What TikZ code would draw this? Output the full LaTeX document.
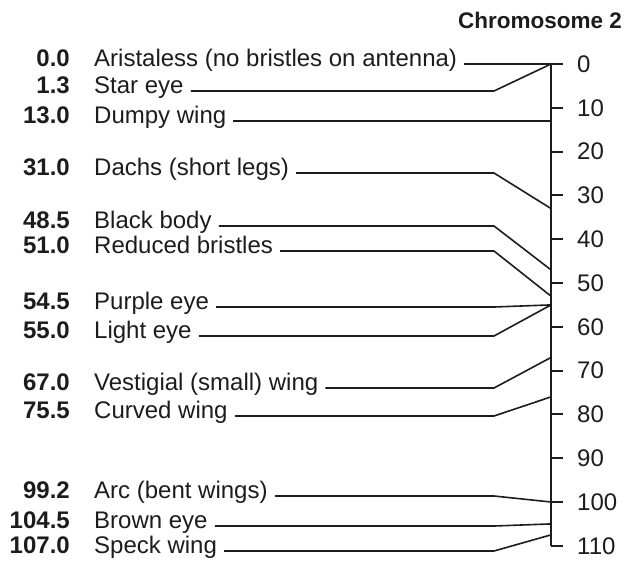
\documentclass[tikz,border=0pt]{standalone}
\usepackage{fontspec}
\setmainfont{Liberation Sans}
\usepackage{tikz}
\definecolor{ink}{HTML}{1C1C1C}
\newcommand{\mapy}[1]{64+4.38*#1}

\begin{document}
\begin{tikzpicture}[x=1pt, y=-1pt,
  locus/.style={anchor=mid east, inner sep=0pt, text=ink,
    font=\fontsize{24}{24}\selectfont\bfseries},
  gene/.style={anchor=mid west, inner sep=0pt, text=ink,
    font=\fontsize{24}{24}\selectfont},
  unit/.style={anchor=west, inner sep=0pt, text=ink,
    font=\fontsize{24}{24}\selectfont},
  lead/.style={ink, line width=1.6pt, line join=round},
  ruler/.style={ink, line width=1.9pt}
]
  \useasboundingbox (0,0) rectangle (636,568);

  \node[anchor=east, inner sep=0pt, text=ink,
    font=\fontsize{22.5}{22.5}\selectfont\bfseries] (title) at (622,20) {Chromosome 2};

  % the map scale
  \coordinate (a0) at (551,{\mapy{0}});
  \coordinate (a110) at (551,{\mapy{110}});
  \coordinate (bend) at (494,0);
  \draw[ruler] (a0) -- (a110);
  \foreach \v in {0,10,...,110} {
    \draw[ruler] (551,{\mapy{\v}}) -- ++(12,0);
    \node[unit] (u\v) at (577,{\mapy{\v}}) {\v};
  }

  % loci
  \node[locus] (nar) at (70,64) {0.0};
  \node[gene] (ar) at (94,64) {Aristaless (no bristles on antenna)};
  \node[locus] (nst) at (70,91) {1.3};
  \node[gene] (st) at (94,91) {Star eye};
  \node[locus] (ndp) at (70,121) {13.0};
  \node[gene] (dp) at (94,121) {Dumpy wing};
  \node[locus] (ndc) at (70,173) {31.0};
  \node[gene] (dc) at (94,173) {Dachs (short legs)};
  \node[locus] (nbb) at (70,226) {48.5};
  \node[gene] (bb) at (94,226) {Black body};
  \node[locus] (nrb) at (70,251) {51.0};
  \node[gene] (rb) at (94,251) {Reduced bristles};
  \node[locus] (npe) at (70,307) {54.5};
  \node[gene] (pe) at (94,307) {Purple eye};
  \node[locus] (nle) at (70,336) {55.0};
  \node[gene] (le) at (94,336) {Light eye};
  \node[locus] (nvw) at (70,388) {67.0};
  \node[gene] (vw) at (94,388) {Vestigial (small) wing};
  \node[locus] (ncw) at (70,416) {75.5};
  \node[gene] (cw) at (94,416) {Curved wing};
  \node[locus] (nac) at (70,496) {99.2};
  \node[gene] (ac) at (94,496) {Arc (bent wings)};
  \node[locus] (nbe) at (70,526) {104.5};
  \node[gene] (be) at (94,526) {Brown eye};
  \node[locus] (nsw) at (70,551) {107.0};
  \node[gene] (sw) at (94,551) {Speck wing};

  % where each leader meets the scale
  \coordinate (pdc) at (551,{\mapy{33}});
  \coordinate (pbb) at (551,{\mapy{47}});
  \coordinate (prb) at (551,{\mapy{53}});
  \coordinate (ppe) at (551,{\mapy{55}});
  \coordinate (pvw) at (551,{\mapy{67}});
  \coordinate (pcw) at (551,{\mapy{76}});
  \coordinate (pac) at (551,{\mapy{100}});
  \coordinate (pbe) at (551,{\mapy{105}});
  \coordinate (psw) at (551,{\mapy{107.5}});

  \draw[lead] ([xshift=7pt]ar.mid east) -- (a0);
  \draw[lead] ([xshift=7pt]st.mid east) -- (st.mid east -| bend) -- (a0);
  \draw[lead] ([xshift=7pt]dp.mid east) -- (dp.mid east -| a0);
  \draw[lead] ([xshift=7pt]dc.mid east) -- (dc.mid east -| bend) -- (pdc);
  \draw[lead] ([xshift=7pt]bb.mid east) -- (bb.mid east -| bend) -- (pbb);
  \draw[lead] ([xshift=7pt]rb.mid east) -- (rb.mid east -| bend) -- (prb);
  \draw[lead] ([xshift=7pt]pe.mid east) -- (pe.mid east -| bend) -- (ppe);
  \draw[lead] ([xshift=7pt]le.mid east) -- (le.mid east -| bend) -- (ppe);
  \draw[lead] ([xshift=7pt]vw.mid east) -- (vw.mid east -| bend) -- (pvw);
  \draw[lead] ([xshift=7pt]cw.mid east) -- (cw.mid east -| bend) -- (pcw);
  \draw[lead] ([xshift=7pt]ac.mid east) -- (ac.mid east -| bend) -- (pac);
  \draw[lead] ([xshift=7pt]be.mid east) -- (be.mid east -| bend) -- (pbe);
  \draw[lead] ([xshift=7pt]sw.mid east) -- (sw.mid east -| bend) -- (psw);
\end{tikzpicture}
\end{document}
